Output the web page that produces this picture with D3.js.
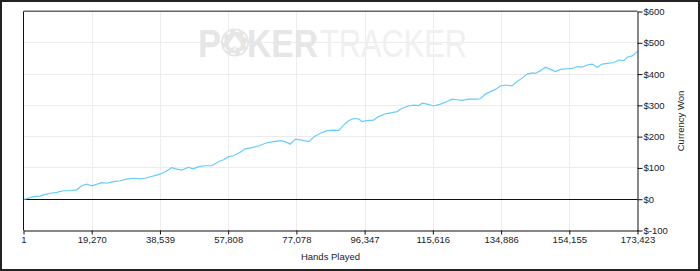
<!DOCTYPE html>
<html lang="en">
<head>
  <meta charset="UTF-8" />
  <title>Hands Played vs Currency Won</title>
  <style>
    body { margin: 0; background: #fff; }
    text { font-family: "Liberation Sans", Arial, sans-serif; }
  </style>
</head>
<body>
  <div id="chart"></div>
  <script src="https://d3js.org/d3.v7.min.js"></script>
  <script>
    // values
    var hands = [1, 424, 2770, 4665, 5597, 7491, 9386, 11251, 13145, 15040, 16453, 17867, 19280,
      22107, 23521, 25386, 27280, 29175, 31040, 32935, 34348, 38589, 40003, 41897, 43311, 44724,
      46590, 48003, 49417, 51311, 53205, 55071, 56484, 57898, 59311, 61205, 62619, 64513, 66379,
      68273, 70617, 72513, 73927, 75340, 76754, 78648, 80514, 82408, 84302, 85716, 87581, 88995,
      90409, 91822, 93236, 94649, 95611, 97024, 98890, 100303, 102197, 104091, 105505, 106918,
      108784, 110198, 111611, 112572, 113986, 115852, 117746, 119159, 121053, 122467, 123880,
      125746, 127640, 129054, 130467, 131881, 133294, 134708, 136121, 138016, 139429, 140843,
      142256, 143670, 144603, 146016, 147430, 148843, 150257, 151670, 153565, 154978, 156392,
      157805, 159219, 160632, 162046, 163459, 164873, 166738, 168152, 169565, 170527, 171940,
      172873, 173423]
    var won = [0, 0, 8, 10, 14, 19, 22, 27, 27, 30, 43, 48, 43,
      53, 51, 56, 59, 64, 67, 65, 67, 80, 88, 101, 96, 93,
      102, 97, 104, 107, 107, 120, 126, 136, 139, 150, 161, 165, 170,
      179, 184, 187, 184, 176, 192, 189, 184, 202, 213, 219, 221, 219,
      237, 251, 258, 257, 248, 251, 253, 264, 273, 277, 280, 291,
      298, 301, 299, 307, 304, 298, 304, 310, 320, 318, 316,
      320, 320, 321, 336, 344, 351, 362, 365, 362, 376, 387,
      400, 404, 402, 411, 422, 415, 408, 415, 417, 418, 424,
      422, 429, 432, 422, 432, 434, 437, 445, 443, 454, 458,
      467, 472]

    var xTicks = [1, 19270, 38539, 57808, 77078, 96347, 115616, 134886, 154155, 173423]
    var yTicks = [-100, 0, 100, 200, 300, 400, 500, 600]

    var W = 700, H = 271
    var pLeft = 23.5, pRight = 637.5, pTop = 11.5, pBottom = 230.5

    var x = d3.scaleLinear().domain([1, 173423]).range([pLeft, pRight])
    var y = d3.scaleLinear().domain([-100, 600]).range([pBottom, pTop])

    var svg = d3.select("#chart").append("svg")
      .attr("width", W)
      .attr("height", H)

    // outer frame
    svg.append("rect")
      .attr("x", 1).attr("y", 1)
      .attr("width", W - 2).attr("height", H - 2)
      .attr("fill", "#fff")
      .attr("stroke", "#222")
      .attr("stroke-width", 2)

    // grid
    svg.append("g").selectAll("line")
      .data(xTicks.slice(1, -1))
      .enter().append("line")
      .attr("x1", function (d) { return Math.round(x(d)) + 0.5 })
      .attr("x2", function (d) { return Math.round(x(d)) + 0.5 })
      .attr("y1", pTop).attr("y2", pBottom)
      .attr("stroke", "#ececec")

    svg.append("g").selectAll("line")
      .data(yTicks.filter(function (d) { return d != 0 && d != -100 && d != 600 }))
      .enter().append("line")
      .attr("x1", pLeft).attr("x2", pRight)
      .attr("y1", function (d) { return Math.round(y(d) - 0.5) + 0.5 })
      .attr("y2", function (d) { return Math.round(y(d) - 0.5) + 0.5 })
      .attr("stroke", "#ececec")

    // watermark
    var wm = svg.append("g").attr("fill", "#e6e6e6")
    wm.append("text")
      .attr("x", 198).attr("y", 56.7)
      .attr("font-size", 38).attr("font-weight", "bold")
      .attr("textLength", 23).attr("lengthAdjust", "spacingAndGlyphs")
      .text("P")
    wm.append("circle")
      .attr("cx", 235).attr("cy", 42.5).attr("r", 14)
    wm.append("circle")
      .attr("cx", 235).attr("cy", 42.5).attr("r", 11.5)
      .attr("fill", "none").attr("stroke", "#fff").attr("stroke-width", 1.5)
      .attr("stroke-dasharray", "4 5")
    wm.append("text")
      .attr("x", 235).attr("y", 50)
      .attr("text-anchor", "middle")
      .attr("font-size", 20).attr("fill", "#fff")
      .style("font-family", "DejaVu Sans")
      .text("\u2660")
    wm.append("text")
      .attr("x", 247).attr("y", 56.7)
      .attr("font-size", 38).attr("font-weight", "bold")
      .attr("textLength", 71).attr("lengthAdjust", "spacingAndGlyphs")
      .text("KER")
    wm.append("text")
      .attr("x", 320).attr("y", 56.7)
      .attr("font-size", 38).attr("fill", "#f0f0f0")
      .attr("textLength", 147).attr("lengthAdjust", "spacingAndGlyphs")
      .text("TRACKER")

    // top edge
    svg.append("line")
      .attr("x1", pLeft).attr("x2", pRight)
      .attr("y1", pTop - 0.25).attr("y2", pTop - 0.25)
      .attr("stroke", "#666").attr("stroke-width", 1.5)

    // zero line
    svg.append("line")
      .attr("x1", pLeft).attr("x2", pRight)
      .attr("y1", Math.round(y(0) - 0.5) + 0.5).attr("y2", Math.round(y(0) - 0.5) + 0.5)
      .attr("stroke", "#111")

    // the line
    var line = d3.line()
      .x(function (d, i) { return x(hands[i]) })
      .y(function (d) { return y(d) })

    svg.append("path")
      .datum(won)
      .attr("d", line)
      .attr("fill", "none")
      .attr("stroke", "#6cf")
      .attr("stroke-width", 1.2)

    // axes
    var xAxis = svg.append("g")
      .attr("transform", "translate(0," + pBottom + ")")
      .call(d3.axisBottom(x).tickValues(xTicks).tickFormat(d3.format(",")).tickSize(4).tickSizeOuter(0))
    xAxis.select(".domain").attr("stroke", "#111")
    xAxis.selectAll("line").attr("stroke", "#111")
    xAxis.selectAll("text").attr("font-size", 9.5).attr("fill", "#222")
      .style("font-family", "Liberation Sans, Arial, sans-serif")
      .attr("y", 6)

    var yAxis = svg.append("g")
      .attr("transform", "translate(" + pRight + ",0)")
      .call(d3.axisRight(y).tickValues(yTicks).tickFormat(function (d) { return "$" + d }).tickSize(5).tickSizeOuter(0))
    yAxis.select(".domain").attr("stroke", "#111")
    yAxis.selectAll("line").attr("stroke", "#111")
    yAxis.selectAll("text").attr("font-size", 9.5).attr("fill", "#222")
      .style("font-family", "Liberation Sans, Arial, sans-serif")
      .attr("x", 6)

    // left edge
    svg.append("line")
      .attr("x1", pLeft).attr("x2", pLeft)
      .attr("y1", pTop).attr("y2", pBottom)
      .attr("stroke", "#111")

    // titles
    svg.append("text")
      .attr("x", (pLeft + pRight) / 2).attr("y", 259.5)
      .attr("text-anchor", "middle")
      .attr("font-size", 9.5).attr("fill", "#222")
      .text("Hands Played")

    svg.append("text")
      .attr("transform", "translate(684," + ((pTop + pBottom) / 2) + ") rotate(-90)")
      .attr("text-anchor", "middle")
      .attr("font-size", 9.5).attr("fill", "#222")
      .text("Currency Won")
  </script>
</body>
</html>
